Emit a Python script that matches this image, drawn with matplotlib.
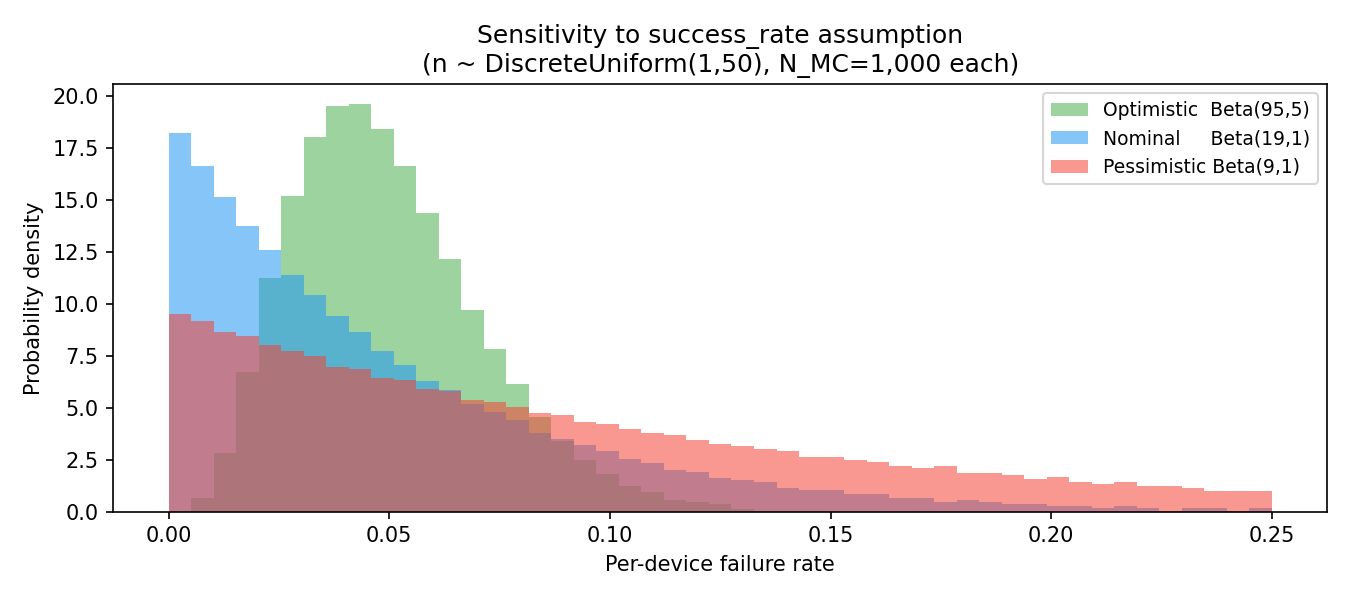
import numpy as np
import matplotlib
matplotlib.use("Agg")
import matplotlib.pyplot as plt

# Histogram bin edges: 49 equal bins from 0 to 0.25
bin_lo, bin_hi, n_edges = 0.0, 0.25, 50

optimistic = [0.00, 0.67, 2.84, 6.73, 11.25, 15.19, 18.03, 19.52, 19.62, 18.41,
              16.63, 14.38, 12.16, 9.71, 7.84, 6.15, 4.57, 3.41, 2.50, 1.83,
              1.25, 0.96, 0.58, 0.48, 0.38, 0.14, 0.05, 0.05, 0.05, 0.00,
              0.00, 0.00, 0.00, 0.05, 0.00, 0.00, 0.00, 0.00, 0.00, 0.00,
              0.00, 0.00, 0.00, 0.00, 0.00, 0.00, 0.00, 0.00, 0.00]
nominal = [18.22, 16.63, 15.14, 13.75, 12.60, 11.39, 10.43, 9.42, 8.65, 7.74,
           7.07, 6.30, 5.87, 5.19, 4.81, 4.42, 3.80, 3.51, 3.22, 2.93,
           2.55, 2.36, 2.02, 1.92, 1.63, 1.54, 1.44, 1.15, 1.06, 1.06,
           0.87, 0.87, 0.67, 0.67, 0.48, 0.58, 0.48, 0.38, 0.38, 0.29,
           0.29, 0.19, 0.29, 0.19, 0.05, 0.19, 0.19, 0.05, 0.19]
pessimistic = [9.52, 9.18, 8.65, 8.46, 8.03, 7.74, 7.50, 6.97, 6.88, 6.44,
               6.35, 5.91, 5.82, 5.38, 5.29, 5.05, 4.76, 4.66, 4.33, 4.23,
               3.99, 3.80, 3.70, 3.46, 3.27, 3.17, 3.03, 2.93, 2.64, 2.64,
               2.50, 2.40, 2.21, 2.12, 2.21, 1.88, 1.88, 1.78, 1.59, 1.68,
               1.44, 1.35, 1.44, 1.25, 1.25, 1.15, 1.01, 1.01, 1.01]

labels = ["Optimistic  Beta(95,5)", "Nominal     Beta(19,1)", "Pessimistic Beta(9,1)"]
colors = ["#4CAF50", "#2196F3", "#F44336"]

edges = np.linspace(bin_lo, bin_hi, n_edges)

fig, ax = plt.subplots(figsize=(9, 4), dpi=150)
fig.subplots_adjust(left=0.084, right=0.983, bottom=0.147, top=0.86)

for vals, lab, col in zip([optimistic, nominal, pessimistic], labels, colors):
    ax.hist(edges[:-1], bins=edges, weights=vals, alpha=0.55, color=col, label=lab)

ax.set_title("Sensitivity to success_rate assumption\n(n ~ DiscreteUniform(1,50), N_MC=1,000 each)")
ax.set_xlabel("Per-device failure rate")
ax.set_ylabel("Probability density")
ax.legend(loc="upper right", fontsize=9)

fig.savefig("out.png", dpi=150)
